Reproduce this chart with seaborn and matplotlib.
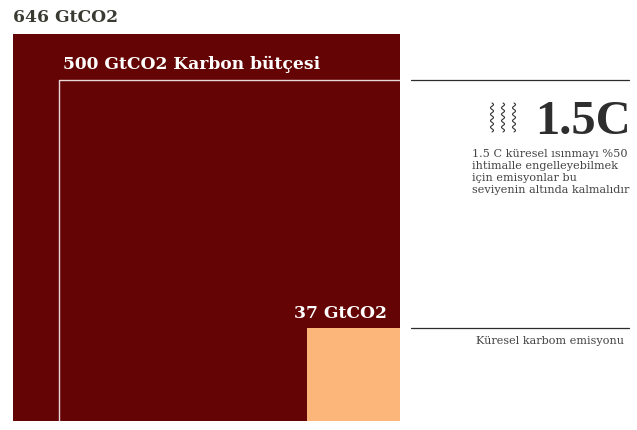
import numpy as np
import seaborn as sns
import matplotlib.pyplot as plt

labels = ['646 GtCO2', '500 GtCO2 Karbon bütçesi', '37 GtCO2']
values = [646, 500, 37]
colors = ['#640404', '#640404', '#fdb67a']

W, H = 637, 430

sns.set_theme(style='white')
plt.rcParams['font.family'] = ['DejaVu Serif', 'DejaVu Sans']

fig = plt.figure(figsize=(W / 100, H / 100), dpi=100)
# kare alani deger ile orantili, kenar = karekok
ax = fig.add_axes([12.6 / W, (H - 421) / H, 387.4 / W, 387.4 / H])

sides = np.sqrt(values)
for side, color in zip(sides, colors):
    sns.barplot(x=[-side / 2], y=[side], width=side, native_scale=True,
                color=color, saturation=1, linewidth=0, ax=ax)

ax.set_xlim(-sides[0], 0)
ax.set_ylim(0, sides[0])
ax.set_xticks([])
ax.set_yticks([])
ax.set_xlabel('')
ax.set_ylabel('')
sns.despine(ax=ax, left=True, bottom=True)

# butce karesinin ust ve sol cizgisi
ax.plot([0, -sides[1], -sides[1]], [sides[1], sides[1], 0], color='#e6d8d8', lw=1.0)


def px_text(x, y, s, **kw):
    fig.text(x / W, 1 - y / H, s, **kw)


px_text(13, 18, labels[0], fontsize=12.35, weight='bold', color='#3a3a32', va='center')
px_text(63, 64, labels[1], fontsize=12.35, weight='bold', color='white', va='center')
px_text(387, 314, labels[2], fontsize=12.35, weight='bold', color='white', va='center', ha='right')

# sag taraftaki cizgiler
trans = ax.get_yaxis_transform()
for side in [sides[1], sides[2]]:
    ax.plot([(411 - 13) / 387, (629 - 13) / 387], [side, side], color='#2b2b2b',
            lw=0.9, clip_on=False, transform=trans)

px_text(535, 122, '1.5C', fontsize=35, weight='bold', family='Liberation Serif',
        color='#2e2e2e', va='center')

note = ['1.5 C küresel ısınmayı %50', 'ihtimalle engelleyebilmek',
        'için emisyonlar bu', 'seviyenin altında kalmalıdır']
for i, line in enumerate(note):
    px_text(472, 154 + i * 12, line, fontsize=8.15, color='#444444', va='center')

px_text(624, 341, 'Küresel karbom emisyonu', fontsize=8.15, color='#444444', va='center', ha='right')

# isi simgesi
t = np.linspace(0, 1, 120)
for x0 in [492, 503, 514]:
    xs = x0 + 1.5 * np.sin(t * 2 * np.pi * 4.5)
    ys = 103 + t * 29
    fig.add_artist(plt.Line2D(xs / W, 1 - ys / H, color='#333333', lw=0.8))

fig.savefig('out.png', dpi=100)
